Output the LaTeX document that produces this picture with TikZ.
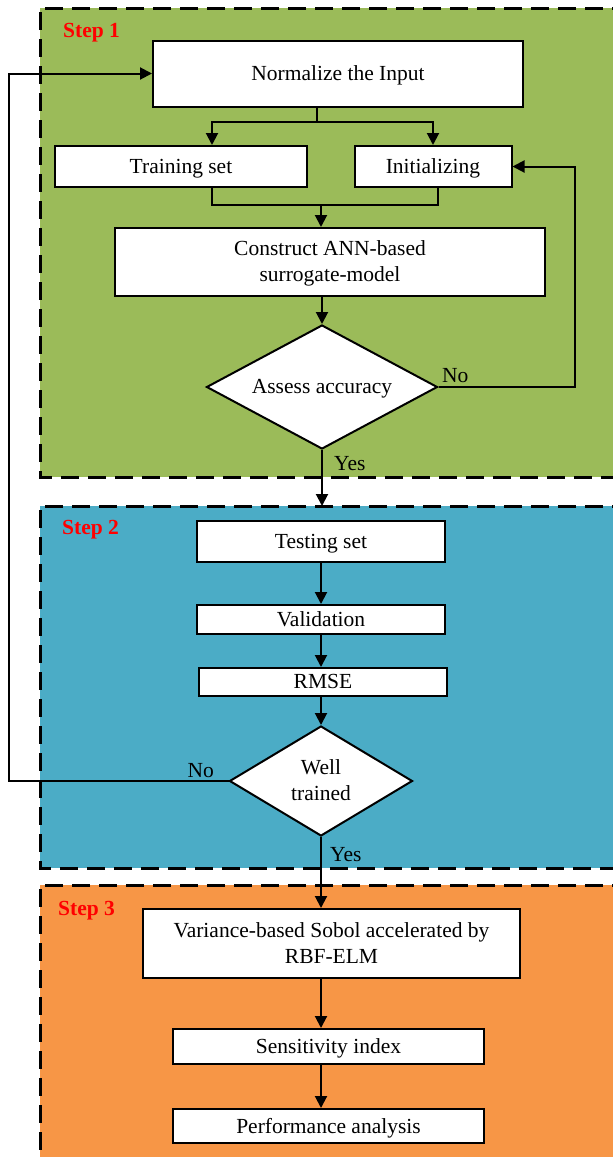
\documentclass[tikz,border=0pt]{standalone}
\usepackage{fontspec}
\setmainfont{Liberation Serif}
\usetikzlibrary{arrows.meta,shapes.geometric}
\definecolor{stepgreen}{HTML}{9BBB59}
\definecolor{stepblue}{HTML}{4BACC6}
\definecolor{steporange}{HTML}{F79646}
\begin{document}
\begin{tikzpicture}[x=1pt,y=-1pt, font=\fontsize{21.5}{26}\selectfont,
 box/.style={draw, line width=2pt, fill=white, inner sep=0pt, align=center, text depth=1pt},
 dia/.style={draw, diamond, line width=2pt, fill=white, inner sep=0pt, align=center, text depth=1pt},
 conn/.style={line width=2pt},
 arr/.style={conn, -{Triangle[length=12pt,width=12pt]}},
 panel/.style={line width=3pt, dash pattern=on 18pt off 9pt},
 steplabel/.style={text=red, font=\fontsize{21.5}{26}\selectfont\bfseries, anchor=base west, inner sep=0pt},
 lbl/.style={inner sep=0pt}]
\useasboundingbox (0,0) rectangle (613,1157);
\clip (0,0) rectangle (613,1157);
\fill[white] (0,0) rectangle (613,1157);
% panels
\fill[stepgreen] (40,8) rectangle (630,477);
\draw[panel] (630,8) -- (40,8) -- (40,477) -- (630,477);
\fill[stepblue] (40,506) rectangle (630,868);
\draw[panel] (630,506) -- (40,506) -- (40,868) -- (630,868);
\fill[steporange] (40,885) rectangle (630,1175);
\draw[panel] (630,885) -- (40,885) -- (40,1175);
\node[steplabel] (s1) at (63,37) {Step 1};
\node[steplabel] (s2) at (62,534) {Step 2};
\node[steplabel] (s3) at (58,915) {Step 3};
% nodes
\node[box, minimum width=370, minimum height=66] (norm) at (338,73.5) {Normalize the Input};
\node[box, minimum width=252, minimum height=41] (train) at (181,166.5) {Training set};
\node[box, minimum width=157, minimum height=41] (init) at (433,166.5) {Initializing};
\node[box, minimum width=430, minimum height=68] (cons) at (330,262) {Construct ANN-based\\surrogate-model};
\node[dia, aspect=1.86, minimum width=231, minimum height=124] (d1) at (322,387) {Assess accuracy};
\node[box, minimum width=248, minimum height=41] (test) at (321,541.5) {Testing set};
\node[box, minimum width=248, minimum height=29] (valid) at (321,619.5) {Validation};
\node[box, minimum width=248, minimum height=28] (rmse) at (323,682) {RMSE};
\node[dia, aspect=1.66, minimum width=183, minimum height=110] (d2) at (321,781) {Well\\trained};
\node[box, minimum width=377, minimum height=69] (var) at (331.5,943.5) {Variance-based Sobol accelerated by\\RBF-ELM};
\node[box, minimum width=311, minimum height=35] (sens) at (328.5,1046.5) {Sensitivity index};
\node[box, minimum width=311, minimum height=34] (perf) at (328.5,1126) {Performance analysis};
% helper coordinates
\coordinate (sp) at (317,122);
\coordinate (tx) at (212,0);
\coordinate (ix) at (438,0);
\coordinate (cx) at (321,0);
\coordinate (my) at (0,205);
\coordinate (rx) at (575,0);
\coordinate (lx) at (9,0);
\coordinate (p2top) at (0,506);
% connectors
\draw[conn] (norm.south -| sp) -- (sp);
\draw[arr] (sp) -| (train.north -| tx);
\draw[arr] (sp) -| (init.north);
\draw[conn] (train.south -| tx) -- (tx |- my) -- (ix |- my) -- (init.south -| ix);
\draw[arr] (cx |- my) -- (cons.north -| cx);
\draw[arr] (cons.south -| d1.north) -- (d1.north);
\draw[arr] (d1.east) -| (rx |- init.east) -- (init.east);
\node[lbl, anchor=base west] (no1) at (442,382) {No};
\draw[arr] (d1.south) -- (d1.south |- p2top);
\node[lbl, anchor=base west] (yes1) at (334,470) {Yes};
\draw[arr] (test.south -| cx) -- (valid.north -| cx);
\draw[arr] (valid.south -| cx) -- (rmse.north -| cx);
\draw[arr] (rmse.south -| d2.north) -- (d2.north);
\draw[arr] (d2.west) -| (lx |- norm.west) -- (norm.west);
\node[lbl, anchor=base east] (no2) at (214,777) {No};
\draw[arr] (d2.south) -- (var.north -| d2.south);
\node[lbl, anchor=base west] (yes2) at (330,861) {Yes};
\draw[arr] (var.south -| cx) -- (sens.north -| cx);
\draw[arr] (sens.south -| cx) -- (perf.north -| cx);
\end{tikzpicture}
\end{document}
